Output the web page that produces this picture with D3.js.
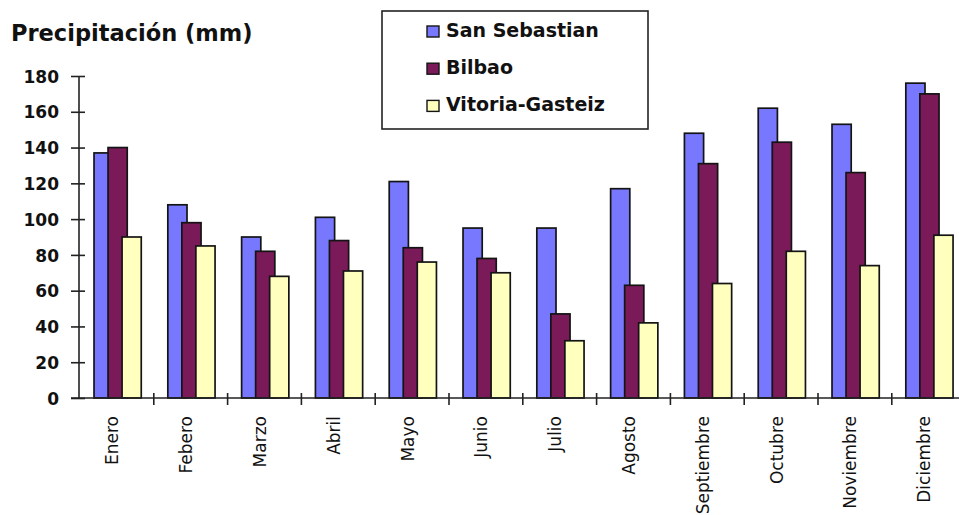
<!DOCTYPE html>
<html>
<head>
<meta charset="utf-8">
<script src="https://cdn.jsdelivr.net/npm/d3@7"></script>
<style>
  html, body { margin: 0; padding: 0; background: #fff; }
  svg { display: block; }
</style>
</head>
<body>
<div id="chart"></div>
<script>
// Monthly precipitation (mm) for three Basque cities
const months = ["Enero", "Febero", "Marzo", "Abril", "Mayo", "Junio", "Julio",
                "Agosto", "Septiembre", "Octubre", "Noviembre", "Diciembre"];
const seriesNames = ["San Sebastian", "Bilbao", "Vitoria-Gasteiz"];
const sanSebastian = [137, 108, 90, 101, 121, 95, 95, 117, 148, 162, 153, 176];
const bilbao       = [140,  98, 82,  88,  84, 78, 47,  63, 131, 143, 126, 170];
const vitoria      = [ 90,  85, 68,  71,  76, 70, 32,  42,  64,  82,  74,  91];
const yTicks = [0, 20, 40, 60, 80, 100, 120, 140, 160, 180];
const titleText = "Precipitación (mm)";

const seriesValues = [sanSebastian, bilbao, vitoria];
const colors = ["#7878FF", "#7A1A58", "#FFFFBE"];

const W = 959, H = 515;
const svg = d3.select("#chart").append("svg")
  .attr("width", W).attr("height", H)
  .style("font-family", "'DejaVu Sans', sans-serif");

const x = d3.scaleBand().domain(months).range([80, 965.6]).padding(0);
const y = d3.scaleLinear().domain([0, 180]).range([398, 76]);

const bw = x.bandwidth();
const barW = bw * 0.26, barStep = bw * 0.19, barOff = bw * 0.19;

// Bars, drawn series by series so later series overlap earlier ones
seriesValues.forEach((vals, si) => {
  svg.append("g").selectAll("rect")
    .data(months.map((m, i) => ({ m, v: vals[i] })))
    .join("rect")
    .attr("x", d => x(d.m) + barOff + si * barStep)
    .attr("y", d => y(d.v))
    .attr("width", barW)
    .attr("height", d => y(0) - y(d.v))
    .attr("fill", colors[si])
    .attr("stroke", "#141414")
    .attr("stroke-width", 1.7);
});

// Y axis
const yAxis = svg.append("g")
  .attr("transform", "translate(79,0)")
  .call(d3.axisLeft(y).tickValues(yTicks).tickSize(8).tickPadding(12));
yAxis.select(".domain").attr("stroke", "#222").attr("stroke-width", 1.6)
  .attr("d", `M0,${y(180)}V${y(0) + 1}`);
yAxis.selectAll(".tick line").attr("x1", -8).attr("x2", 6)
  .attr("stroke", "#222").attr("stroke-width", 1.6);
yAxis.selectAll(".tick text")
  .attr("font-size", 17).attr("font-weight", "bold")
  .attr("fill", "#111").attr("dy", "0.36em")
  .style("font-family", "'DejaVu Sans', sans-serif");

// X axis line and category separators
svg.append("line")
  .attr("x1", 71).attr("x2", W)
  .attr("y1", y(0)).attr("y2", y(0))
  .attr("stroke", "#222").attr("stroke-width", 1.6);
svg.append("g").selectAll("line")
  .data(months.slice(1))
  .join("line")
  .attr("x1", d => x(d)).attr("x2", d => x(d))
  .attr("y1", y(0) - 5).attr("y2", y(0) + 7)
  .attr("stroke", "#222").attr("stroke-width", 1.6);

// Month labels, rotated
svg.append("g").selectAll("text")
  .data(months)
  .join("text")
  .attr("transform", d => `translate(${x(d) + bw / 2},416) rotate(-90)`)
  .attr("y", 1.5)
  .attr("text-anchor", "end")
  .attr("font-size", 17)
  .attr("fill", "#111")
  .text(d => d);

// Title
svg.append("text")
  .attr("x", 11).attr("y", 41)
  .attr("font-size", 22.5).attr("font-weight", "bold")
  .attr("fill", "#111")
  .text(titleText);

// Legend
const legend = svg.append("g");
legend.append("rect")
  .attr("x", 382).attr("y", 11).attr("width", 266).attr("height", 118)
  .attr("fill", "#fff").attr("stroke", "#222").attr("stroke-width", 1.6);
const item = legend.selectAll("g.item")
  .data(seriesNames)
  .join("g").attr("class", "item")
  .attr("transform", (d, i) => `translate(0,${37 + i * 37.2})`);
item.append("rect")
  .attr("x", 427).attr("y", -11).attr("width", 12).attr("height", 11)
  .attr("fill", (d, i) => colors[i])
  .attr("stroke", "#141414").attr("stroke-width", 1.4);
item.append("text")
  .attr("x", 446).attr("y", 0)
  .attr("font-size", 19).attr("font-weight", "bold")
  .attr("fill", "#111")
  .text(d => d);
</script>
</body>
</html>
